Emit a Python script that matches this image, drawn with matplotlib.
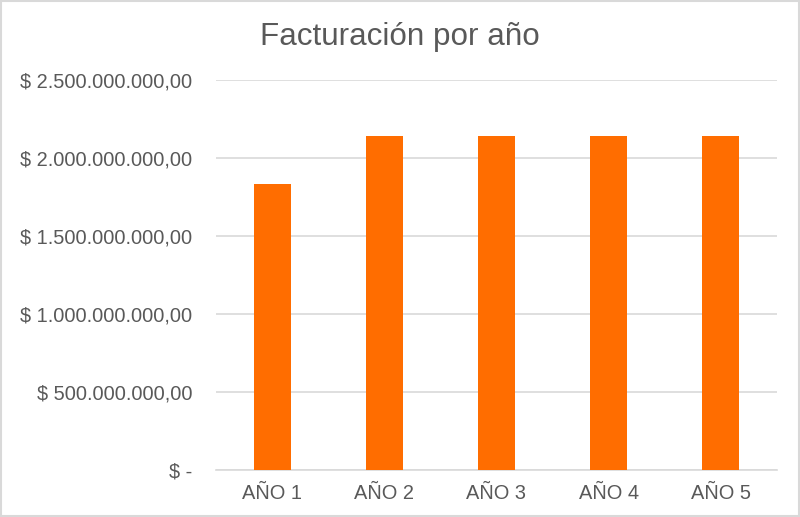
import matplotlib
matplotlib.use("Agg")
import matplotlib.pyplot as plt
from matplotlib.ticker import FuncFormatter, MultipleLocator
from matplotlib.patches import Rectangle

plt.rcParams['font.family'] = ['Liberation Sans', 'DejaVu Sans']

# data
years = ['AÑO 1', 'AÑO 2', 'AÑO 3', 'AÑO 4', 'AÑO 5']
revenue = [1833000000, 2141000000, 2141000000, 2141000000, 2141000000]

text_gray = '#595959'
grid_gray = '#D9D9D9'
bar_color = '#FF6D00'


def money(v, pos):
    if v == 0:
        return '$ -'
    s = f'{v:,.2f}'.replace(',', 'X').replace('.', ',').replace('X', '.')
    return '$ ' + s


fig = plt.figure(figsize=(8.0, 5.17), dpi=100)
ax = fig.add_axes([216 / 800, 1 - 470 / 517, (777 - 216) / 800, (470 - 80) / 517])

ax.bar(range(len(years)), revenue, width=0.33, color=bar_color, zorder=3)

ax.set_xlim(-0.5, len(years) - 0.5)
ax.set_ylim(0, 2500000000)
ax.yaxis.set_major_locator(MultipleLocator(500000000))
ax.yaxis.set_major_formatter(FuncFormatter(money))
ax.set_xticks(range(len(years)))
ax.set_xticklabels(years)

ax.grid(axis='y', color=grid_gray, linewidth=1.2, zorder=0)
for side in ['top', 'right', 'left']:
    ax.spines[side].set_visible(False)
ax.spines['bottom'].set_color(grid_gray)
ax.spines['bottom'].set_linewidth(1.2)
ax.tick_params(axis='both', length=0, labelsize=14.4, labelcolor=text_gray)
ax.tick_params(axis='y', pad=17)
ax.tick_params(axis='x', pad=10)

fig.text(0.5, 1 - 37 / 517, 'Facturación por año', ha='center', va='center',
         fontsize=22.6, color=text_gray)

# chart border like the spreadsheet frame
fig.patches.append(Rectangle((0.001, 0.001), 0.998, 0.997, transform=fig.transFigure,
                             fill=False, edgecolor='#D9D9D9', linewidth=1.5))

fig.savefig('out.png', dpi=100)
